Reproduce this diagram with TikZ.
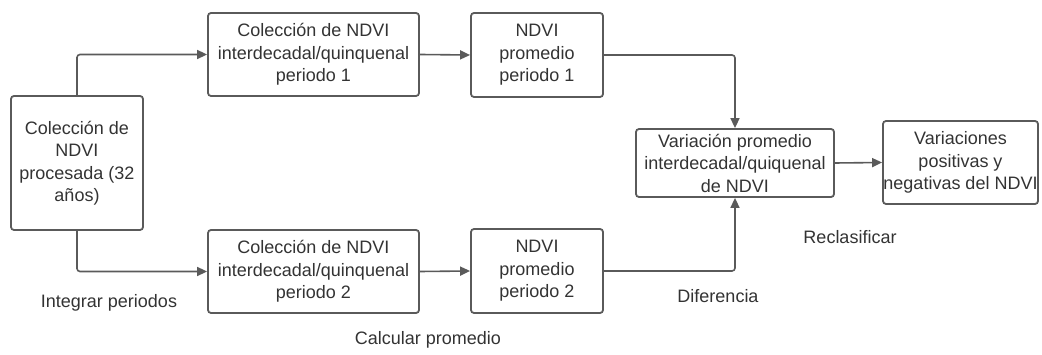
\documentclass[tikz,border=0pt]{standalone}
\usepackage{fontspec}
\setmainfont{Liberation Sans}
\usetikzlibrary{arrows.meta}
\definecolor{edge}{HTML}{5A5A5A}
\definecolor{ink}{HTML}{333333}
\begin{document}
\begin{tikzpicture}[x=1pt,y=-1pt,
  box/.style={draw=edge,line width=1.8pt,rounded corners=3pt,align=center,
    inner sep=0pt,text=ink,font=\fontsize{18}{22.5}\selectfont},
  lbl/.style={text=ink,font=\fontsize{18}{22.5}\selectfont,inner sep=0pt},
  conn/.style={draw=edge,line width=1.6pt,rounded corners=3pt,
    -{Triangle[length=10pt,width=9pt]}}]
\useasboundingbox (0,0) rectangle (1042,355);
\node[box,minimum width=132pt,minimum height=134pt] (L) at (77,163)
  {Colección de\\NDVI\\procesada (32\\años)};
\node[box,minimum width=211pt,minimum height=83pt] (C1) at (313.5,54.5)
  {Colección de NDVI\\interdecadal/quinquenal\\periodo 1};
\node[box,minimum width=211pt,minimum height=83pt] (C2) at (313.5,271.5)
  {Colección de NDVI\\interdecadal/quinquenal\\periodo 2};
\node[box,minimum width=132pt,minimum height=84pt] (P1) at (537,55)
  {NDVI\\promedio\\periodo 1};
\node[box,minimum width=132pt,minimum height=84pt] (P2) at (537,271)
  {NDVI\\promedio\\periodo 2};
\node[box,minimum width=198pt,minimum height=68pt] (V) at (735,163)
  {Variación promedio\\interdecadal/quiquenal\\de NDVI};
\node[box,minimum width=155pt,minimum height=83pt] (F) at (960.5,162.5)
  {Variaciones\\positivas y\\negativas del NDVI};
\draw[conn] (L.north) |- (C1.west);
\draw[conn] (L.south) |- (C2.west);
\draw[conn] (C1.east) -- (P1.west);
\draw[conn] (C2.east) -- (P2.west);
\draw[conn] (P1.east) -| (V.north);
\draw[conn] (P2.east) -| (V.south);
\draw[conn] (V.east) -- (F.west);
\node[lbl] (t1) at (109,303) {Integrar periodos};
\node[lbl] (t2) at (428,340) {Calcular promedio};
\node[lbl] (t3) at (718,296) {Diferencia};
\node[lbl] (t4) at (850,237) {Reclasificar};
\end{tikzpicture}
\end{document}
